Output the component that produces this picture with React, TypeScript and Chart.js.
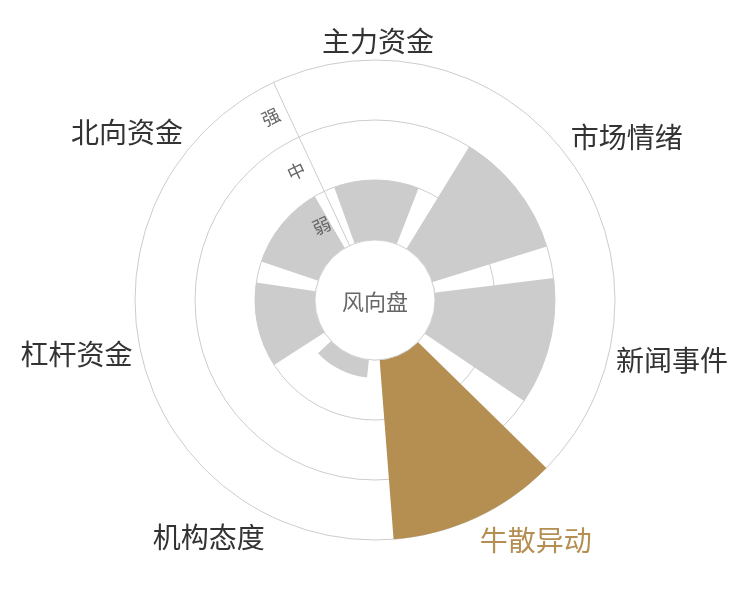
import React, { useRef, useEffect } from "react";
import { Chart, registerables } from "chart.js";

Chart.register(...registerables);

const categories = ["主力资金", "市场情绪", "新闻事件", "牛散异动", "机构态度", "杠杆资金", "北向资金"];
const strengthValues = [1, 2, 2, 3, 0.3, 1, 1];
const levelLabels = ["弱", "中", "强"];
const highlightIndex = 3;
const centerTitle = "风向盘";

const FONT = '"Noto Sans CJK SC", "Noto Sans", sans-serif';
const GRAY_BAR = "#cccccc";
const GOLD = "#b58f52";

const slice = 360 / categories.length;
const barAngle = slice * 0.8;
const gapAngle = slice - barAngle;
const rotation = 0.7; // the whole rose sits a touch clockwise of straight up

// each category -> one bar arc followed by one empty gap arc
const arcValues = categories.flatMap((_, i) => [strengthValues[i], -1]);
const arcAngles = categories.flatMap(() => [barAngle, gapAngle]);
const arcLabels = categories.flatMap((c) => [c, ""]);

const toRad = (deg: number) => (deg * Math.PI) / 180;

const windRosePlugin = {
  id: "windRose",
  beforeDatasetsDraw(chart: any) {
    const scale = chart.scales.r;
    const ctx = chart.ctx;
    const inner = scale.getDistanceFromCenterForValue(0);
    const outer = scale.getDistanceFromCenterForValue(levelLabels.length);
    const shift = toRad(-gapAngle / 2);
    const a = scale.getPointPosition(0, inner, shift);
    const b = scale.getPointPosition(0, outer, shift);
    ctx.save();
    ctx.strokeStyle = "#cccccc";
    ctx.lineWidth = 1;
    ctx.beginPath();
    ctx.moveTo(a.x, a.y);
    ctx.lineTo(b.x, b.y);
    ctx.stroke();
    ctx.restore();
  },
  afterDatasetsDraw(chart: any) {
    const scale = chart.scales.r;
    const ctx = chart.ctx;
    const hole = scale.getDistanceFromCenterForValue(0);
    ctx.save();
    ctx.beginPath();
    ctx.arc(scale.xCenter, scale.yCenter, hole, 0, Math.PI * 2);
    ctx.fillStyle = "#ffffff";
    ctx.fill();
    ctx.strokeStyle = "#d2d2d2";
    ctx.lineWidth = 1;
    ctx.stroke();
    ctx.fillStyle = "#666666";
    ctx.font = `22px ${FONT}`;
    ctx.textAlign = "center";
    ctx.textBaseline = "middle";
    ctx.fillText(centerTitle, scale.xCenter, scale.yCenter + 2);
    ctx.restore();
  },
  afterDraw(chart: any) {
    const scale = chart.scales.r;
    const ctx = chart.ctx;
    const r = scale.drawingArea + 8;
    ctx.save();
    ctx.font = `28px ${FONT}`;
    categories.forEach((label, i) => {
      const p = scale.getPointPosition(i * 2, r, toRad(barAngle / 2));
      const dx = p.x - scale.xCenter;
      const dy = p.y - scale.yCenter;
      ctx.textAlign = Math.abs(dx) / r < 0.3 ? "center" : dx > 0 ? "left" : "right";
      let nudge = 2;
      if (Math.abs(dy) / r < 0.3) {
        ctx.textBaseline = "middle";
      } else if (dy > 0) {
        ctx.textBaseline = "top";
        nudge = 1.5;
      } else {
        ctx.textBaseline = "bottom";
        nudge = 3.5;
      }
      ctx.fillStyle = i === highlightIndex ? GOLD : "#333333";
      ctx.fillText(label, p.x, p.y + nudge);
    });

    // level names along the radius axis line
    ctx.font = `18px ${FONT}`;
    ctx.fillStyle = "#666666";
    ctx.textAlign = "right";
    ctx.textBaseline = "middle";
    const shift = toRad(-gapAngle / 2);
    levelLabels.forEach((label, j) => {
      const dist = scale.getDistanceFromCenterForValue(j + 0.5);
      const p = scale.getPointPosition(0, dist, shift);
      ctx.save();
      ctx.translate(p.x, p.y);
      ctx.rotate(p.angle + Math.PI / 2);
      ctx.fillText(label, -8, 0);
      ctx.restore();
    });
    ctx.restore();
  },
};

const App: React.FC = () => {
  const chartRef = useRef<HTMLCanvasElement | null>(null);
  const chartInstanceRef = useRef<Chart | null>(null);

  useEffect(() => {
    if (!chartRef.current) return;
    const context = chartRef.current.getContext("2d");
    if (!context) return;
    if (chartInstanceRef.current) {
      chartInstanceRef.current.destroy();
    }

    chartInstanceRef.current = new Chart(context, {
      type: "polarArea",
      data: {
        labels: arcLabels,
        datasets: [
          {
            data: arcValues,
            angle: (c: any) => arcAngles[c.dataIndex],
            backgroundColor: (c: any) => {
              if (c.dataIndex % 2 === 1) return "rgba(0,0,0,0)";
              return c.dataIndex / 2 === highlightIndex ? GOLD : GRAY_BAR;
            },
            borderWidth: 0,
          } as any,
        ],
      },
      options: {
        animation: false,
        responsive: true,
        maintainAspectRatio: false,
        layout: { padding: 52 },
        plugins: {
          legend: { display: false },
          tooltip: { enabled: false },
        },
        scales: {
          r: {
            min: -1,
            max: levelLabels.length,
            startAngle: -barAngle / 2 + rotation,
            ticks: { display: false, stepSize: 1 },
            grid: { circular: true, color: "#cccccc", lineWidth: 1 },
            angleLines: { display: false },
            pointLabels: { display: false },
          },
        },
      } as any,
      plugins: [windRosePlugin],
    });

    return () => {
      if (chartInstanceRef.current) {
        chartInstanceRef.current.destroy();
        chartInstanceRef.current = null;
      }
    };
  }, []);

  return (
    <div style={{ width: 734, height: 584 }}>
      <canvas ref={chartRef}></canvas>
    </div>
  );
};

export default App;
